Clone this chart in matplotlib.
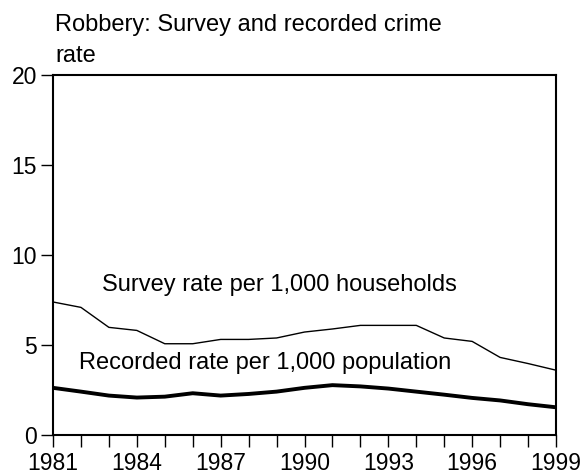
import matplotlib
matplotlib.use("Agg")
import matplotlib.pyplot as plt

years = list(range(1981, 2000))
survey = [7.39, 7.09, 5.98, 5.81, 5.07, 5.07, 5.31, 5.31, 5.39, 5.72, 5.89,
          6.09, 6.09, 6.09, 5.39, 5.20, 4.31, 3.97, 3.60]
recorded = [2.62, 2.41, 2.19, 2.08, 2.13, 2.32, 2.19, 2.28, 2.41, 2.62, 2.77,
            2.70, 2.58, 2.41, 2.24, 2.06, 1.92, 1.71, 1.54]
xlabels = [1981, 1984, 1987, 1990, 1993, 1996, 1999]
yticks = [0, 5, 10, 15, 20]

plt.rcParams['font.family'] = ['Liberation Sans', 'DejaVu Sans']

fig = plt.figure(figsize=(5.84, 4.76), dpi=100)
ax = fig.add_axes([53/584, 41/476, 503/584, 360/476])

ax.plot(years, survey, color='black', lw=1.0)
ax.plot(years, recorded, color='black', lw=2.8)

ax.set_xlim(1981, 1999)
ax.set_ylim(0, 20)
ax.set_xticks(years, minor=True)
ax.set_xticks(xlabels)
ax.set_xticklabels([str(y) for y in xlabels], fontsize=16.5)
ax.set_yticks(yticks)
ax.set_yticklabels([str(v) for v in yticks], fontsize=16.5)
ax.tick_params(axis='x', which='both', direction='out', length=8.5, width=1, pad=3.5)
ax.tick_params(axis='y', direction='out', length=8.5, width=1, pad=3)
for s in ax.spines.values():
    s.set_linewidth(1.5)

ax.text(1982.75, 8.33, "Survey rate per 1,000 households", fontsize=17, va='center', ha='left')
ax.text(1981.93, 4.02, "Recorded rate per 1,000 population", fontsize=17, va='center', ha='left')

fig.text(55/584, 1 - 25/476, "Robbery: Survey and recorded crime", fontsize=17, va='center', ha='left')
fig.text(55/584, 1 - 56/476, "rate", fontsize=17, va='center', ha='left')

fig.savefig("out.png", dpi=100)
